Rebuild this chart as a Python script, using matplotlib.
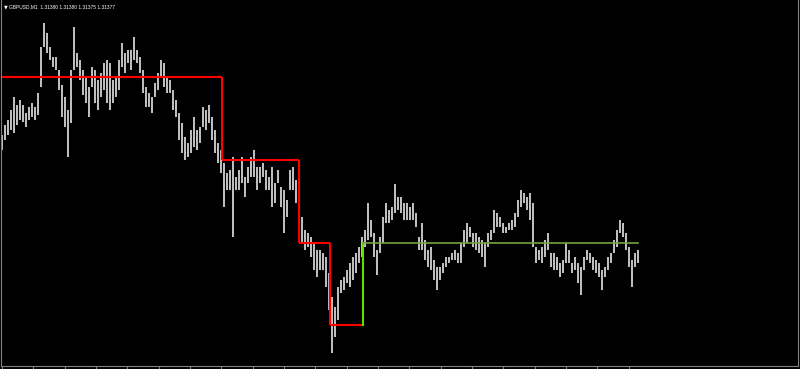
import numpy as np
import matplotlib
matplotlib.use("Agg")
import matplotlib.pyplot as plt

# GBPUSD M1 bars, high / low per bar
bar_high = [
    1.31497, 1.31507, 1.31512, 1.31522, 1.31535, 1.31527, 1.31532, 1.31527, 1.31519, 1.31525,
    1.31529, 1.31525, 1.31539, 1.31585, 1.31609, 1.31599, 1.31585, 1.31575, 1.31575, 1.31562,
    1.31547, 1.31535, 1.31522, 1.31562, 1.31605, 1.31579, 1.31572, 1.31562, 1.31555, 1.31545,
    1.31565, 1.31562, 1.31552, 1.31559, 1.31569, 1.31572,
    1.31569, 1.31552, 1.31555, 1.31572, 1.31589, 1.31579, 1.31582, 1.31582, 1.31595, 1.31582,
    1.31575, 1.31562, 1.31545, 1.31539, 1.31535, 1.31549, 1.31559, 1.31572, 1.31569, 1.31555,
    1.31552, 1.31542, 1.31532, 1.31519, 1.31509, 1.31495, 1.31489, 1.31502, 1.31515, 1.31502,
    1.31505, 1.31525, 1.31522, 1.31527, 1.31515, 1.31502, 1.31489,
    1.31482, 1.31469, 1.31459, 1.31462, 1.31475, 1.31455, 1.31462, 1.31475, 1.31455, 1.31465,
    1.31475, 1.31482, 1.31465, 1.31465, 1.31469, 1.31462, 1.31455, 1.31465, 1.31449, 1.31462,
    1.31445, 1.31442, 1.31432, 1.31462, 1.31465, 1.31452, 1.31442, 1.31415, 1.31402, 1.31399,
    1.31395, 1.31389, 1.31382, 1.31382, 1.31379, 1.31375,
    1.31359, 1.31335, 1.31325, 1.31345, 1.31352, 1.31355, 1.31362, 1.31369, 1.31375, 1.31379,
    1.31385, 1.31395, 1.31402, 1.31429, 1.31412, 1.31399, 1.31382, 1.31395, 1.31415, 1.31429,
    1.31422, 1.31425, 1.31448, 1.31435, 1.31435, 1.31429, 1.31429, 1.31425, 1.31429, 1.31419,
    1.31395, 1.31409, 1.31392,
    1.31382, 1.31385, 1.31372, 1.31365, 1.31365, 1.31369, 1.31375, 1.31375, 1.31379, 1.31382,
    1.31379, 1.31389, 1.31402, 1.31409, 1.31405, 1.31399, 1.31399, 1.31395, 1.31392, 1.31389,
    1.31399, 1.31402, 1.31422, 1.31419, 1.31415, 1.31409, 1.31405, 1.31409, 1.31412, 1.31419,
    1.31432, 1.31442, 1.31439, 1.31435, 1.31439,
    1.31429, 1.31385, 1.31382, 1.31385, 1.31392, 1.31399, 1.31379, 1.31379, 1.31375, 1.31369,
    1.31372, 1.31389, 1.31382, 1.31369, 1.31375, 1.31369, 1.31365, 1.31375, 1.31382, 1.31379,
    1.31375, 1.31372, 1.31369, 1.31362, 1.31365, 1.31375, 1.31379, 1.31392, 1.31402, 1.31412,
    1.31409, 1.31399, 1.31385, 1.31372, 1.31379, 1.31382,
]
bar_low = [
    1.31482, 1.31492, 1.31497, 1.31502, 1.31499, 1.31507, 1.31512, 1.31510, 1.31505, 1.31512,
    1.31515, 1.31512, 1.31517, 1.31545, 1.31585, 1.31579, 1.31572, 1.31565, 1.31562, 1.31542,
    1.31515, 1.31505, 1.31475, 1.31509, 1.31562, 1.31565, 1.31552, 1.31537, 1.31529, 1.31515,
    1.31545, 1.31529, 1.31522, 1.31535, 1.31542, 1.31529,
    1.31522, 1.31529, 1.31535, 1.31542, 1.31565, 1.31559, 1.31569, 1.31562, 1.31572, 1.31569,
    1.31559, 1.31539, 1.31525, 1.31525, 1.31519, 1.31535, 1.31542, 1.31555, 1.31545, 1.31539,
    1.31539, 1.31522, 1.31515, 1.31492, 1.31479, 1.31472, 1.31475, 1.31479, 1.31485, 1.31482,
    1.31489, 1.31505, 1.31502, 1.31509, 1.31492, 1.31479, 1.31469,
    1.31459, 1.31425, 1.31442, 1.31442, 1.31395, 1.31442, 1.31442, 1.31449, 1.31435, 1.31449,
    1.31455, 1.31455, 1.31442, 1.31449, 1.31455, 1.31442, 1.31442, 1.31425, 1.31429, 1.31449,
    1.31425, 1.31399, 1.31415, 1.31442, 1.31442, 1.31429, 1.31422, 1.31389, 1.31382, 1.31385,
    1.31375, 1.31362, 1.31355, 1.31362, 1.31362, 1.31345,
    1.31322, 1.31279, 1.31295, 1.31312, 1.31339, 1.31342, 1.31349, 1.31345, 1.31352, 1.31359,
    1.31369, 1.31375, 1.31385, 1.31392, 1.31395, 1.31375, 1.31357, 1.31379, 1.31389, 1.31409,
    1.31409, 1.31412, 1.31419, 1.31422, 1.31419, 1.31412, 1.31412, 1.31412, 1.31412, 1.31405,
    1.31382, 1.31382, 1.31372,
    1.31365, 1.31362, 1.31352, 1.31342, 1.31352, 1.31359, 1.31365, 1.31369, 1.31372, 1.31372,
    1.31369, 1.31369, 1.31385, 1.31389, 1.31395, 1.31385, 1.31382, 1.31379, 1.31375, 1.31365,
    1.31385, 1.31392, 1.31399, 1.31405, 1.31405, 1.31399, 1.31399, 1.31402, 1.31402, 1.31405,
    1.31415, 1.31425, 1.31429, 1.31422, 1.31412,
    1.31385, 1.31369, 1.31372, 1.31369, 1.31375, 1.31382, 1.31365, 1.31362, 1.31362, 1.31355,
    1.31359, 1.31369, 1.31369, 1.31359, 1.31362, 1.31349, 1.31337, 1.31362, 1.31372, 1.31369,
    1.31362, 1.31359, 1.31355, 1.31342, 1.31355, 1.31362, 1.31369, 1.31379, 1.31385, 1.31399,
    1.31395, 1.31382, 1.31365, 1.31345, 1.31365, 1.31369,
]

# support / resistance steps: start bar, end bar, price
red_start = [0, 73.3, 99, 109.3]
red_end = [73.3, 99, 109.3, 120.3]
red_price = [1.31555, 1.31472, 1.31389, 1.31307]
green_start = 120.3
green_end = 212
green_price = 1.31389

title_text = "GBPUSD,M1  1.31380 1.31380 1.31375 1.31377"

bars = np.arange(len(bar_high))

fig = plt.figure(figsize=(8, 3.69), dpi=100, facecolor="black")
ax = fig.add_axes([1 / 800, 3 / 369, 797 / 800, 366 / 369])
ax.set_facecolor("black")

ax.vlines(bars, bar_low, bar_high, color="#e4e4e4", linewidth=1.2)

# red step line
for i in range(len(red_price)):
    ax.plot([red_start[i], red_end[i]], [red_price[i], red_price[i]], color="#ff0000", linewidth=1.5,
            solid_capstyle="butt")
    if i > 0:
        ax.plot([red_start[i], red_start[i]], [red_price[i - 1], red_price[i]], color="#ff0000",
                linewidth=1.5, solid_capstyle="butt")

# green step
ax.plot([green_start, green_start], [red_price[-1], green_price], color="#66dd00", linewidth=1.5)
ax.plot([green_start, green_end], [green_price, green_price], color="#77a040", linewidth=1.2)

ax.set_xlim(-0.3, 265.4)
ax.set_ylim(1.31266, 1.31632)

ax.set_xticks(np.arange(21) * 10.45)
ax.set_xticklabels([])
ax.set_yticks([])
ax.tick_params(axis="x", direction="out", length=3, color="#808080", width=0.8)
for side in ["left", "bottom", "right"]:
    ax.spines[side].set_color("#808080")
    ax.spines[side].set_linewidth(0.8)
ax.spines["top"].set_visible(False)

fig.text(4 / 800, 1 - 7 / 369, "\u25bc", color="white", fontsize=3.5, va="center", ha="left")
fig.text(9 / 800, 1 - 7 / 369, title_text, color="white", fontsize=3.5,
         family="Liberation Sans", va="center", ha="left")

fig.savefig("out.png", dpi=100, facecolor="black")
